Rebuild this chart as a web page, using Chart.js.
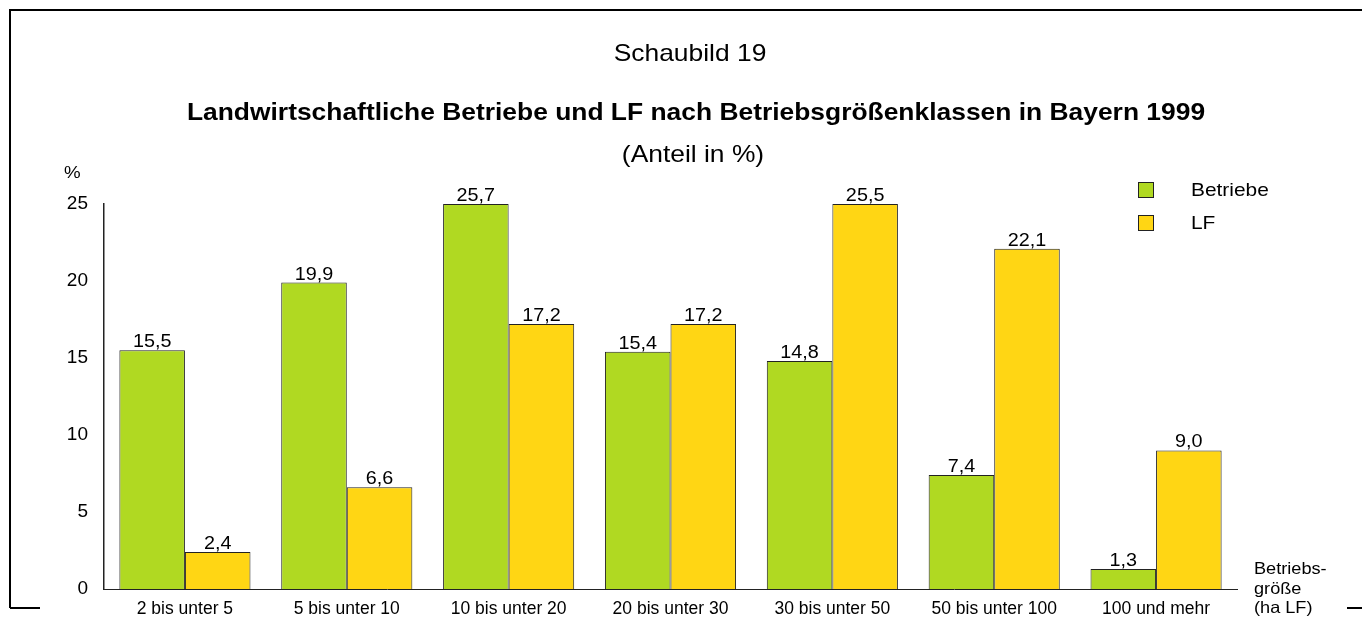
<!DOCTYPE html>
<html>
<head>
<meta charset="utf-8">
<script src="https://cdn.jsdelivr.net/npm/chart.js@4/dist/chart.umd.min.js"></script>
<style>
  html, body { margin: 0; padding: 0; background: #fff; }
  #wrap { width: 1362px; height: 620px; }
</style>
</head>
<body>
<div id="wrap"><canvas id="myChart" width="1362" height="620"></canvas></div>
<script>
// Daten
const kategorien = ['2 bis unter 5', '5 bis unter 10', '10 bis unter 20', '20 bis unter 30', '30 bis unter 50', '50 bis unter 100', '100 und mehr'];
const betriebe = [15.5, 19.9, 25.7, 15.4, 14.8, 7.4, 1.3];
const lf = [2.4, 6.6, 17.2, 17.2, 25.5, 22.1, 9.0];
const yTicks = [0, 5, 10, 15, 20, 25];
const yMax = 25;

const FONT = '"Liberation Sans", Arial, sans-serif';
const GRUEN = 'rgb(176, 217, 34)';
const GELB = 'rgb(255, 214, 20)';
const STRETCH = 1.1; // Schrift im Original ist etwas breiter

// Text leicht horizontal gestreckt zeichnen
function text(ctx, s, x, y) {
  ctx.save();
  ctx.translate(x, y);
  ctx.scale(STRETCH, 1);
  ctx.fillText(s, 0, 0);
  ctx.restore();
}

// Rahmen, Überschriften, Legende und Werte
const deko = {
  id: 'deko',
  afterDraw(chart) {
    const ctx = chart.ctx;
    ctx.save();
    // Rahmen
    ctx.strokeStyle = '#000';
    ctx.lineWidth = 2;
    ctx.beginPath();
    ctx.moveTo(10, 608); ctx.lineTo(10, 10); ctx.lineTo(1362, 10);
    ctx.moveTo(10, 608); ctx.lineTo(40, 608);
    ctx.moveTo(1347, 608); ctx.lineTo(1362, 608);
    ctx.stroke();

    ctx.fillStyle = '#000';
    ctx.textAlign = 'center';
    ctx.textBaseline = 'middle';
    ctx.font = '24px ' + FONT;
    text(ctx, 'Schaubild 19', 690, 54);
    ctx.font = 'bold 24px ' + FONT;
    text(ctx, 'Landwirtschaftliche Betriebe und LF nach Betriebsgrößenklassen in Bayern 1999', 696, 113);
    ctx.font = '24px ' + FONT;
    text(ctx, '(Anteil in %)', 693, 155);

    ctx.textAlign = 'left';
    ctx.font = '17px ' + FONT;
    text(ctx, '%', 64, 173);

    ctx.font = '16.5px ' + FONT;
    text(ctx, 'Betriebs-', 1254, 569);
    text(ctx, 'größe', 1254, 589);
    text(ctx, '(ha LF)', 1254, 608);

    // Legende
    ctx.font = '19px ' + FONT;
    chart.data.datasets.forEach((ds, i) => {
      const y = 190 + i * 33;
      ctx.fillStyle = ds.backgroundColor;
      ctx.strokeStyle = '#222';
      ctx.lineWidth = 1;
      ctx.fillRect(1138, y - 8, 16, 16);
      ctx.strokeRect(1138.5, y - 7.5, 15, 15);
      ctx.fillStyle = '#000';
      text(ctx, ds.label, 1191, y + 1);
    });

    // Werte über den Säulen
    ctx.font = '18px ' + FONT;
    ctx.textAlign = 'center';
    ctx.textBaseline = 'bottom';
    chart.data.datasets.forEach((ds, i) => {
      chart.getDatasetMeta(i).data.forEach((bar, j) => {
        const txt = ds.werte[j].toFixed(1).replace('.', ',');
        text(ctx, txt, bar.x, bar.y + 1);
      });
    });
    ctx.restore();
  }
};

const config = {
  type: 'bar',
  data: {
    labels: kategorien,
    datasets: [{
      label: 'Betriebe',
      werte: betriebe,
      data: betriebe.map(v => Math.min(v, yMax)), // Säulen werden bei 25 abgeschnitten
      backgroundColor: GRUEN,
      borderColor: '#222',
      borderWidth: 1,
      borderSkipped: 'bottom'
    }, {
      label: 'LF',
      werte: lf,
      data: lf.map(v => Math.min(v, yMax)),
      backgroundColor: GELB,
      borderColor: '#222',
      borderWidth: 1,
      borderSkipped: 'bottom'
    }]
  },
  options: {
    responsive: false,
    animation: false,
    layout: { padding: { top: 204, right: 125, left: 0, bottom: 0 } },
    plugins: {
      legend: { display: false },
      tooltip: { enabled: false }
    },
    datasets: {
      bar: { categoryPercentage: 0.81, barPercentage: 1 }
    },
    scales: {
      x: {
        grid: { display: false, drawTicks: false },
        border: { color: '#222', width: 1 },
        ticks: { color: '#000', font: { family: FONT, size: 17.5 }, padding: 10, maxRotation: 0 },
        afterFit(scale) { scale.height = 31; }
      },
      y: {
        min: 0,
        max: yMax,
        grid: { display: false, drawTicks: false },
        border: { color: '#222', width: 1.5 },
        afterBuildTicks(scale) { scale.ticks = yTicks.map(v => ({ value: v })); },
        ticks: { color: '#000', font: { family: FONT, size: 19 }, padding: 16 },
        afterFit(scale) { scale.width = 104; }
      }
    }
  },
  plugins: [deko]
};

const myChart = new Chart(document.getElementById('myChart'), config);
</script>
</body>
</html>
